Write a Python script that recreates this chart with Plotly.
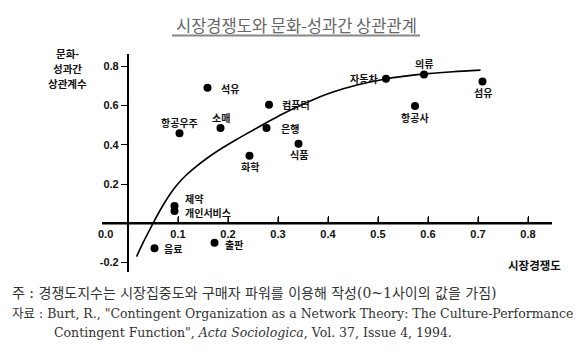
import plotly.graph_objects as go

# ---------------- data ----------------
title_text = "시장경쟁도와 문화-성과간 상관관계"
y_title_lines = ["문화-", "성과간", "상관계수"]
x_title = "시장경쟁도"

industries = ["석유", "컴퓨터", "소매", "항공우주", "은행", "식품", "화학",
              "제약", "개인서비스", "음료", "출판", "자동차", "의류", "섬유", "항공사"]
competition = [0.159, 0.282, 0.185, 0.103, 0.277, 0.341, 0.243,
               0.093, 0.093, 0.053, 0.173, 0.516, 0.592, 0.709, 0.574]
correlation = [0.690, 0.604, 0.485, 0.458, 0.485, 0.405, 0.344,
               0.088, 0.063, -0.127, -0.099, 0.736, 0.758, 0.722, 0.597]

curve_x = [0.017, 0.03, 0.04, 0.05, 0.07, 0.085, 0.1, 0.115, 0.13, 0.16, 0.19, 0.22,
           0.25, 0.28, 0.31, 0.34, 0.375, 0.41, 0.46, 0.515, 0.55, 0.6, 0.65, 0.705]
curve_y = [-0.17, -0.10, -0.05, 0.0, 0.092, 0.152, 0.201, 0.242, 0.276, 0.335, 0.386, 0.431,
           0.474, 0.517, 0.558, 0.595, 0.634, 0.668, 0.705, 0.735, 0.748, 0.762, 0.772, 0.780]

x_ticks = [0.1, 0.2, 0.3, 0.4, 0.5, 0.6, 0.7, 0.8]
x_ticktext = ["0.1", "0.2", "0.3", "0.4", "0.5", "0.6", "0.7", "0.8"]
y_ticks = [-0.2, 0.2, 0.4, 0.6, 0.8]
y_ticktext = ["-0.2", "0.2", "0.4", "0.6", "0.8"]
origin_label = "0.0"

note1 = "주 : 경쟁도지수는 시장집중도와 구매자 파워를 이용해 작성(0~1사이의 값을 가짐)"
note2 = "자료 : Burt, R., \"Contingent Organization as a Network Theory: The Culture-Performance"
note3 = "Contingent Function\", <i>Acta Sociologica</i>, Vol. 37, Issue 4, 1994."

# ---------------- styles ----------------
W, H = 588, 354
x_range = [-0.052, 0.848]
y_range = [-0.248, 0.862]
x_dom = [102 / W, 552 / W]
y_dom = [1 - 272 / H, 1 - 54 / H]
x_axis_pos = 1 - 223.3 / H   # paper y where value 0 sits
y_axis_pos = 128 / W         # paper x where value 0 sits
tick_len_px = 6

tick_font = dict(family="Liberation Sans, Arial", size=11, color="#111")
label_font = dict(family="Noto Sans CJK KR", size=10, color="#111")
bold_kr = dict(family="Noto Sans CJK KR", size=10.5, color="#111")
xtitle_font = dict(family="Noto Sans CJK KR", size=11.5, color="#111")
title_font = dict(family="Noto Sans CJK KR", size=16.5, color="#666")
note_font = dict(family="DejaVu Serif, Noto Sans CJK KR", size=12.5, color="#333")
note1_font = dict(family="DejaVu Serif, Noto Sans CJK KR", size=14, color="#333")

# label placement: (xanchor, yanchor, xshift, yshift)
label_place = {
    "석유": ("left", "middle", 11, -1),
    "컴퓨터": ("left", "middle", 11, 0),
    "소매": ("center", "middle", 0, 11),
    "항공우주": ("center", "middle", 0, 11),
    "은행": ("left", "middle", 12, 0),
    "식품": ("center", "middle", 0, -11),
    "화학": ("center", "middle", 0, -11),
    "제약": ("left", "middle", 8, 7.5),
    "개인서비스": ("left", "middle", 8, -1.5),
    "음료": ("left", "middle", 7, 0),
    "출판": ("left", "middle", 8, -2),
    "자동차": ("right", "middle", -6, 0),
    "의류": ("center", "middle", 0, 11),
    "섬유": ("center", "middle", 0, -11),
    "항공사": ("center", "middle", 0, -11),
}

fig = go.Figure()
fig.add_trace(go.Scatter(x=curve_x, y=curve_y, mode="lines",
                         line=dict(color="#000", width=1.6, shape="spline", smoothing=0.8),
                         hoverinfo="skip", showlegend=False))
fig.add_trace(go.Scatter(x=competition, y=correlation, mode="markers",
                         marker=dict(color="#000", size=8),
                         text=industries, showlegend=False))

annotations = []
for name, xv, yv in zip(industries, competition, correlation):
    xa, ya, xs, ys = label_place[name]
    annotations.append(dict(x=xv, y=yv, xref="x", yref="y", text="<b>%s</b>" % name,
                            showarrow=False, xanchor=xa, yanchor=ya, xshift=xs, yshift=ys,
                            font=label_font))
# origin tick label (left of the y axis)
annotations.append(dict(x=x_range[0], y=0, xref="x", yref="y", text="<b>%s</b>" % origin_label,
                        showarrow=False, xanchor="left", yanchor="top", xshift=-6, yshift=-3,
                        font=tick_font))
# title
annotations.append(dict(x=296 / W, y=1 - 25 / H, xref="paper", yref="paper", text=title_text,
                        showarrow=False, xanchor="center", yanchor="middle", font=title_font))
# axis titles
for line, ypx in zip(y_title_lines, [53, 68, 83]):
    annotations.append(dict(x=67 / W, y=1 - ypx / H, xref="paper", yref="paper",
                            text="<b>%s</b>" % line,
                            showarrow=False, xanchor="center", yanchor="middle",
                            font=bold_kr))
annotations.append(dict(x=563 / W, y=1 - 265 / H, xref="paper", yref="paper",
                        text="<b>%s</b>" % x_title,
                        showarrow=False, xanchor="right", yanchor="middle", font=xtitle_font))
# notes
annotations.append(dict(x=10 / W, y=1 - 293 / H, xref="paper", yref="paper", text=note1,
                        showarrow=False, xanchor="left", yanchor="middle", font=note1_font))
annotations.append(dict(x=10 / W, y=1 - 313 / H, xref="paper", yref="paper", text=note2,
                        showarrow=False, xanchor="left", yanchor="middle", font=note_font))
annotations.append(dict(x=52 / W, y=1 - 332 / H, xref="paper", yref="paper", text=note3,
                        showarrow=False, xanchor="left", yanchor="middle", font=note_font))

shapes = [
    # title underline
    dict(type="line", xref="paper", yref="paper",
         x0=172 / W, x1=420 / W, y0=1 - 35.5 / H, y1=1 - 35.5 / H,
         line=dict(color="#888", width=2)),
    # horizontal axis line through value 0, spanning the x domain
    dict(type="line", xref="x domain", yref="y", x0=0, x1=1, y0=0, y1=0,
         layer="above", line=dict(color="#000", width=2.2)),
]
# upward tick marks on the zero line, one per x tick value
for t in x_ticks:
    shapes.append(dict(type="line", xref="x", yref="y", ysizemode="pixel", yanchor=0,
                       x0=t, x1=t, y0=0, y1=tick_len_px, layer="above",
                       line=dict(color="#000", width=1.2)))

fig.update_layout(
    width=W, height=H,
    margin=dict(l=0, r=0, t=0, b=0),
    paper_bgcolor="#fff", plot_bgcolor="#fff",
    annotations=annotations,
    shapes=shapes,
    xaxis=dict(range=x_range, domain=x_dom, anchor="free", position=x_axis_pos,
               showgrid=False, zeroline=False, showline=True, linecolor="#000", linewidth=2.2,
               ticks="inside", ticklen=tick_len_px, tickwidth=1.2, tickcolor="#000",
               tickvals=x_ticks, ticktext=["<b>%s</b>" % t for t in x_ticktext],
               tickfont=tick_font, fixedrange=True),
    yaxis=dict(range=y_range, domain=y_dom, anchor="free", position=y_axis_pos,
               showgrid=False, zeroline=True, zerolinecolor="#000", zerolinewidth=2.2,
               showline=True, linecolor="#000", linewidth=2.2,
               ticks="outside", ticklen=tick_len_px, tickwidth=1.2, tickcolor="#000",
               tickvals=y_ticks, ticktext=["<b>%s</b>" % t for t in y_ticktext],
               tickfont=tick_font, fixedrange=True),
)

fig.write_html("out.html")
